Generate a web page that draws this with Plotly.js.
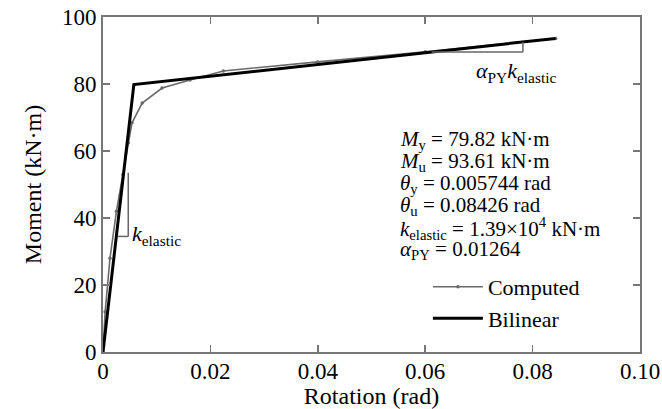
<!DOCTYPE html>
<html>
<head>
<meta charset="utf-8">
<script src="https://cdn.plot.ly/plotly-3.0.1.min.js"></script>
<style>html,body{margin:0;padding:0;background:#fff;}#chart{width:662px;height:409px;}</style>
</head>
<body>
<div id="chart"></div>
<script>
// Computed moment-rotation curve
const computedRotation = [0, 0.0004, 0.0013, 0.0025, 0.0037, 0.0047, 0.0054, 0.0073, 0.011, 0.0162, 0.0224, 0.040, 0.060, 0.0843];
const computedMoment   = [0, 12, 28, 42, 53, 62.4, 68.4, 74.3, 78.8, 81.2, 83.9, 86.6, 89.6, 93.6];
// Bilinear idealisation
const bilinearRotation = [0, 0.005744, 0.08426];
const bilinearMoment   = [0, 79.82, 93.61];
const seriesNames = ["Computed", "Bilinear"];
const xTicks = [0, 0.02, 0.04, 0.06, 0.08, 0.10];
const xTickLabels = ["0", "0.02", "0.04", "0.06", "0.08", "0.10"];
const yTicks = [0, 20, 40, 60, 80, 100];
const infoLines = [
  "<i>M</i><sub>y</sub> = 79.82 kN·m",
  "<i>M</i><sub>u</sub> = 93.61 kN·m",
  "<i>θ</i><sub>y</sub> = 0.005744 rad",
  "<i>θ</i><sub>u</sub> = 0.08426 rad",
  "<i>k</i><sub>elastic</sub> = 1.39×10<sup>4</sup> kN·m",
  "<i>α</i><sub>PY</sub> = 0.01264"
];

const FONT = "'Liberation Serif', 'Times New Roman', serif";
const axisGray = "#777777";

const traces = [
  {x: computedRotation, y: computedMoment, name: seriesNames[0], type: "scatter", mode: "lines+markers",
   line: {color: "#6a6a6a", width: 1.6}, marker: {color: "#6a6a6a", size: 3.5}},
  {x: bilinearRotation, y: bilinearMoment, name: seriesNames[1], type: "scatter", mode: "lines",
   line: {color: "#000000", width: 3}}
];

const infoY = [63.3, 56.7, 50.1, 43.6, 37.0, 30.4];
const annotations = infoLines.map((t, i) => ({
  text: t, x: 0.0549, y: infoY[i], xref: "x", yref: "y", xanchor: "left", yanchor: "middle",
  showarrow: false, font: {family: FONT, size: 21, color: "#000"}
}));
annotations.push({text: "<i>k</i><sub>elastic</sub>", x: 0.00503, y: 34.9, xref: "x", yref: "y",
  xanchor: "left", yanchor: "middle", showarrow: false, font: {family: FONT, size: 22, color: "#000"}});
annotations.push({text: "<i>α</i><sub>PY</sub><i>k</i><sub>elastic</sub>", x: 0.0691, y: 83.6, xref: "x", yref: "y",
  xanchor: "left", yanchor: "middle", showarrow: false, font: {family: FONT, size: 22, color: "#000"}});

const triColor = "#666666";
const shapes = [
  // k_elastic slope triangle
  {type: "line", xref: "x", yref: "y", x0: 0.0047, y0: 53.5, x1: 0.0047, y1: 34.5, line: {color: triColor, width: 1.5}},
  {type: "line", xref: "x", yref: "y", x0: 0.0047, y0: 34.5, x1: 0.0028, y1: 34.5, line: {color: triColor, width: 1.5}},
  // alpha_PY k_elastic slope triangle
  {type: "line", xref: "x", yref: "y", x0: 0.0612, y0: 89.55, x1: 0.0782, y1: 89.55, line: {color: triColor, width: 1.5}},
  {type: "line", xref: "x", yref: "y", x0: 0.0782, y0: 89.55, x1: 0.0782, y1: 92.55, line: {color: triColor, width: 1.5}}
];

const layout = {
  width: 662, height: 409,
  margin: {l: 103, r: 22, t: 17, b: 57},
  paper_bgcolor: "#fff", plot_bgcolor: "#fff",
  font: {family: FONT, size: 22, color: "#000"},
  showlegend: true,
  legend: {x: 0.605, y: 0.257, xanchor: "left", yanchor: "top", bgcolor: "rgba(0,0,0,0)",
           font: {family: FONT, size: 22, color: "#000"}, tracegroupgap: 0, itemwidth: 50},
  xaxis: {range: [0, 0.10], tickvals: xTicks, ticktext: xTickLabels, ticks: "inside", ticklen: 7,
          tickcolor: axisGray, tickwidth: 1.5, showline: true, linecolor: axisGray, linewidth: 2, mirror: "ticks",
          showgrid: false, zeroline: false, tickfont: {family: FONT, size: 23}, ticklabelstandoff: -3,
          title: {text: "Rotation (rad)", font: {family: FONT, size: 24}, standoff: 0}},
  yaxis: {range: [0, 100], tickvals: yTicks, ticks: "inside", ticklen: 7,
          tickcolor: axisGray, tickwidth: 1.5, showline: true, linecolor: axisGray, linewidth: 2, mirror: "ticks",
          showgrid: false, zeroline: false, tickfont: {family: FONT, size: 23},
          title: {text: "Moment (kN·m)", font: {family: FONT, size: 24}, standoff: 14}},
  annotations: annotations,
  shapes: shapes
};

Plotly.newPlot("chart", traces, layout, {staticPlot: true, displayModeBar: false});
</script>
</body>
</html>
